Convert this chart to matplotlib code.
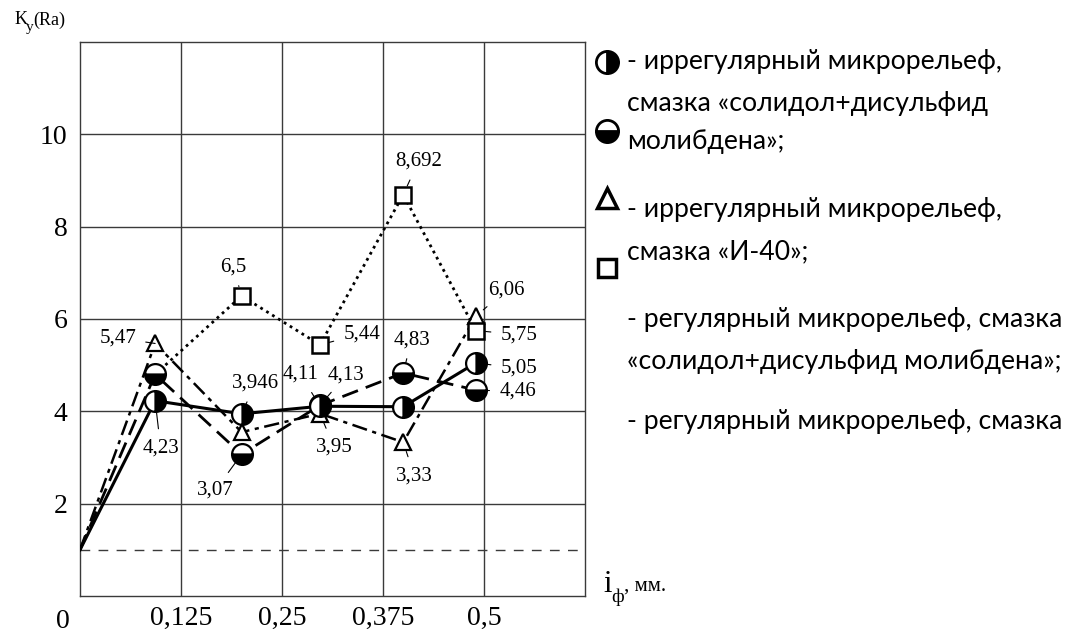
import matplotlib
matplotlib.use('Agg')
import matplotlib.pyplot as plt

# data
x_pts = [0.093, 0.2, 0.297, 0.4, 0.49]
x_start = 0.0
y_start = 1.0
irr_solidol = [4.23, 3.946, 4.11, 4.10, 5.05]   # half circle, right black, solid line
reg_solidol = [4.80, 3.07, 4.13, 4.83, 4.46]    # half circle, bottom black, dashed
irr_i40 = [5.47, 3.55, 3.95, 3.33, 6.06]        # triangle, dash-dot
reg_i40 = [4.80, 6.5, 5.44, 8.692, 5.75]        # square, dotted (first point hidden)

x_ticks = [0.125, 0.25, 0.375, 0.5]
x_tick_labels = ['0,125', '0,25', '0,375', '0,5']
y_ticks = [2, 4, 6, 8, 10]

legend_lines = [
    '- иррегулярный микрорельеф,',
    'смазка «солидол+дисульфид',
    'молибдена»;',
    '- иррегулярный микрорельеф,',
    'смазка «И-40»;',
    '- регулярный микрорельеф, смазка',
    '«солидол+дисульфид молибдена»;',
    '- регулярный микрорельеф, смазка',
]

W, H = 1073, 633
plt.rcParams['lines.scale_dashes'] = False
serif = 'Liberation Serif'

fig = plt.figure(figsize=(W / 100, H / 100), dpi=100)
ax = fig.add_axes([80 / W, 1 - 596 / H, 505 / W, 554 / H])

ax.set_xlim(0, 0.625)
ax.set_ylim(0, 12)
ax.set_xticks(x_ticks)
ax.set_xticklabels(x_tick_labels)
ax.set_yticks(y_ticks)
ax.set_yticklabels([str(v) for v in y_ticks])
ax.tick_params(length=0, labelsize=20)
ax.tick_params(axis='x', pad=7)
ax.tick_params(axis='y', pad=9)
for lab in ax.get_xticklabels() + ax.get_yticklabels():
    lab.set_fontfamily(serif)
ax.grid(True, color='#3a3a3a', lw=1.0)
for sp in ax.spines.values():
    sp.set_color('#3a3a3a')
    sp.set_linewidth(1.0)

# base line K = 1
ax.axhline(y_start, color='#3a3a3a', lw=1.0, linestyle=(0, (7, 6)))

# series
ax.plot([x_start] + x_pts, [y_start] + irr_i40, color='black', lw=1.8,
        linestyle=(0, (11, 4, 3, 4)), marker='^', markersize=12,
        markerfacecolor='white', markeredgecolor='black', markeredgewidth=1.6,
        markevery=[1, 2, 3, 4, 5], zorder=3)
ax.plot(x_pts, reg_i40, color='black', lw=2.0, linestyle=(0, (2, 3)),
        marker='s', markersize=11, markerfacecolor='white',
        markeredgecolor='black', markeredgewidth=1.8,
        markevery=[1, 2, 3, 4], zorder=3)
ax.plot([x_start] + x_pts, [y_start] + reg_solidol, color='black', lw=2.0,
        linestyle=(0, (12, 6)), marker='o', markersize=15, fillstyle='bottom',
        markerfacecolor='black', markerfacecoloralt='white',
        markeredgecolor='black', markeredgewidth=1.6,
        markevery=[1, 2, 3, 4, 5], zorder=4)
ax.plot([x_start] + x_pts, [y_start] + irr_solidol, color='black', lw=2.2,
        linestyle='-', marker='o', markersize=15, fillstyle='right',
        markerfacecolor='black', markerfacecoloralt='white',
        markeredgecolor='black', markeredgewidth=1.6,
        markevery=[1, 2, 3, 4, 5], zorder=5)

# value labels with leader lines: (series, index, offset in points)
labels = [
    (irr_i40, 0, (-27, 4)),
    (irr_solidol, 0, (4, -34)),
    (reg_i40, 1, (-6, 21)),
    (reg_i40, 3, (11, 24)),
    (irr_i40, 4, (22, 19)),
    (reg_i40, 2, (30, 8)),
    (reg_solidol, 3, (6, 24)),
    (reg_i40, 4, (31, -3)),
    (irr_solidol, 4, (31, -4)),
    (reg_solidol, 4, (30, -1)),
    (irr_solidol, 1, (10, 22)),
    (irr_solidol, 2, (-14, 23)),
    (reg_solidol, 2, (19, 22)),
    (irr_i40, 2, (10, -24)),
    (reg_solidol, 1, (-19, -26)),
    (irr_i40, 3, (8, -24)),
]
for ser, i, off in labels:
    txt = f'{ser[i]:g}'.replace('.', ',')
    ax.annotate(txt, xy=(x_pts[i], ser[i]), xytext=off,
                textcoords='offset points', ha='center', va='center',
                fontsize=15, fontfamily=serif, zorder=6,
                arrowprops=dict(arrowstyle='-', lw=0.8, color='black',
                                shrinkA=5, shrinkB=7))

# axis captions
fig.text(63 / W, 1 - 622 / H, '0', fontsize=20, fontfamily=serif,
         ha='center', va='center')
fig.text(15 / W, 1 - 20 / H, 'K', fontsize=13, fontfamily=serif, va='center')
fig.text(26 / W, 1 - 27 / H, 'y', fontsize=11, fontfamily=serif, va='center')
fig.text(33 / W, 1 - 20 / H, '(Ra)', fontsize=13, fontfamily=serif, va='center')
fig.text(603 / W, 1 - 584 / H, 'i', fontsize=22, fontfamily=serif, va='center')
fig.text(611 / W, 1 - 597 / H, 'ф', fontsize=14, fontfamily=serif, va='center')
fig.text(624 / W, 1 - 586 / H, ', мм.', fontsize=15, fontfamily=serif,
         va='center')

# legend block on the right
lax = fig.add_axes([0, 0, 1, 1])
lax.set_xlim(0, W)
lax.set_ylim(H, 0)
lax.axis('off')
lax.plot(607, 62, marker='o', markersize=16, fillstyle='right',
         markerfacecolor='black', markerfacecoloralt='white',
         markeredgecolor='black', markeredgewidth=2)
lax.plot(607, 131, marker='o', markersize=16, fillstyle='bottom',
         markerfacecolor='black', markerfacecoloralt='white',
         markeredgecolor='black', markeredgewidth=2)
lax.plot(607, 198, marker='^', markersize=14, markerfacecolor='white',
         markeredgecolor='black', markeredgewidth=2.5)
lax.plot(607, 268, marker='s', markersize=13, markerfacecolor='white',
         markeredgecolor='black', markeredgewidth=2.5)

legend_y = [62, 103, 142, 210, 252, 320, 362, 422]
for txt, yy in zip(legend_lines, legend_y):
    fig.text(627 / W, 1 - yy / H, txt, fontsize=19.2, fontfamily='Lato',
             va='center', ha='left')

fig.savefig('out.png', dpi=100)
